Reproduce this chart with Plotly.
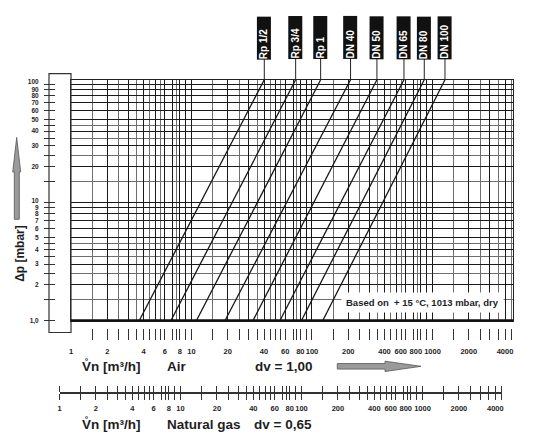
import numpy as np
import plotly.graph_objects as go

# values
sizes = ["Rp 1/2", "Rp 3/4", "Rp 1", "DN 40", "DN 50", "DN 65", "DN 80", "DN 100"]
flow_at_1mbar = [3.69, 6.76, 11.0, 19.0, 32.4, 54.3, 81.8, 123.0]   # m3/h air at 1 mbar
flow_at_top = [40.2, 73.2, 118.0, 209.0, 346.0, 580.0, 855.0, 1270.0]  # m3/h air at top edge
dp_bottom = 1.0
dp_top = 109.0
flow_max = 4660
gas_max = 4500

mantissas_major = [1, 2, 3, 4, 5, 6, 7, 8, 9]
mantissas_half = [1.5, 2.5, 3.5, 4.5, 5.5, 7.5]
flow_labels = {1: "1", 2: "2", 4: "4", 6: "6", 8: "8", 10: "10", 20: "20", 40: "40",
               60: "60", 80: "80", 100: "100", 200: "200", 400: "400", 1000: "1000",
               2000: "2000", 4000: "4000"}
# these two are nudged left in the original so they clear 1000
nudged_labels = {600: "600", 800: "800"}

dp_ticks = [1, 1.5, 2, 2.5, 3, 3.5, 4, 4.5, 5, 6, 7, 8, 9, 10, 15, 20, 25, 30, 35,
            40, 45, 50, 60, 70, 80, 90, 100]
dp_labels = {1: "1,0", 2: "2", 3: "3", 4: "4", 5: "5", 6: "6", 7: "7", 8: "8", 9: "9",
             20: "20", 30: "30", 40: "40", 50: "50", 60: "60", 70: "70", 80: "80", 90: "90"}
# decade labels sit a little higher so they clear 9 / 90
dp_decade_labels = {10: "10", 100: "100"}

major_flow = [m * 10 ** k for k in range(4) for m in mantissas_major if m * 10 ** k <= 4500]
half_flow = [m * 10 ** k for k in range(4) for m in mantissas_half if m * 10 ** k <= 4500]
all_flow = sorted(major_flow + half_flow)
air_flow = [v for v in all_flow if v > 1]
dp_major = [v for v in dp_ticks if float(v).is_integer() and (v < 10 or v % 10 == 0)]
dp_half = [v for v in dp_ticks if v not in dp_major]

# page body has an 8px margin, so the figure sits at (8, 8) in the window
OFF = 8
W, H = 533, 437
L, R, T, B = 32, 20, 2, 5
PW, PH = W - L - R, H - T - B


def px(x):
    return (x - OFF - L) / PW


def py(y):
    return (H - B - (y - OFF)) / PH


FONT = "Liberation Sans, Arial, sans-serif"
INK = "#1e1e1e"

fig = go.Figure()

for name, f1, ft in zip(sizes, flow_at_1mbar, flow_at_top):
    fig.add_trace(go.Scatter(
        x=[f1, ft], y=[dp_bottom, dp_top], mode="lines",
        line=dict(color="#161616", width=1.3),
        name=name, hoverinfo="skip", showlegend=False
    ))

# empty traces so the extra scales get drawn
for xa, ya in [("x2", "y2"), ("x3", "y3"), ("x", "y4"), ("x", "y5"), ("x4", "y2"),
               ("x5", "y2"), ("x6", "y3")]:
    fig.add_trace(go.Scatter(x=[], y=[], xaxis=xa, yaxis=ya, showlegend=False))

grid = dict(showgrid=True, gridcolor="#1a1a1a", gridwidth=1.2, ticks="",
            showticklabels=False, zeroline=False, showline=True, mirror=True,
            linecolor="#222", linewidth=1.2)
minor_grid = dict(showgrid=True, gridcolor="#6e6e6e", gridwidth=1.1, ticks="")
tick_font = dict(size=7.5, weight="bold", color=INK)
hidden_ticks = dict(tickcolor="rgba(0,0,0,0)")
air_range = [0, np.log10(flow_max)]
gas_range = [0, np.log10(gas_max)]
dp_range = [0, np.log10(dp_top)]
air_scale = dict(type="log", range=air_range, anchor="y2", ticks="outside", ticklen=11,
                 tickwidth=1.2, tickcolor="#333", showline=False, showgrid=False,
                 zeroline=False, tickfont=tick_font, tickangle=0, ticklabelstandoff=5)
gas_scale = dict(type="log", range=gas_range, anchor="y3", ticks="outside", ticklen=6,
                 tickwidth=1.2, tickcolor="#333", showgrid=False, zeroline=False,
                 tickfont=tick_font, tickangle=0, ticklabelstandoff=2)
dp_scale = dict(type="log", range=dp_range, overlaying="y", anchor="free",
                position=px(55), side="left", ticks="outside", ticklen=11, tickwidth=1.2,
                tickcolor="#333", showline=False, showgrid=False, zeroline=False,
                tickfont=dict(size=6.5, weight="bold", color=INK), ticklabelstandoff=4)

fig.update_layout(
    width=W, height=H,
    margin=dict(l=L, r=R, t=T, b=B),
    paper_bgcolor="white", plot_bgcolor="white",
    showlegend=False,
    font=dict(family=FONT, color=INK),
    xaxis=dict(type="log", range=air_range, domain=[px(71), px(513)],
               tickvals=major_flow, minor=dict(tickvals=half_flow, **minor_grid), **grid),
    yaxis=dict(type="log", range=dp_range, domain=[py(321), py(79)],
               tickvals=dp_major, minor=dict(tickvals=dp_half, **minor_grid), **grid),
    # air flow scale
    xaxis2=dict(domain=[px(71), px(513)], tickvals=air_flow,
                ticktext=[flow_labels.get(v, "") for v in air_flow], **air_scale),
    xaxis4=dict(overlaying="x2", tickvals=[1], ticktext=[flow_labels[1]],
                **{**air_scale, **hidden_ticks}),
    xaxis5=dict(overlaying="x2", tickvals=list(nudged_labels),
                ticktext=list(nudged_labels.values()), ticklabelshift=-5,
                **{**air_scale, **hidden_ticks}),
    yaxis2=dict(domain=[py(328), py(327)], anchor="x2", visible=False, range=[0, 1]),
    # natural gas scale
    xaxis3=dict(domain=[px(59.5), px(501.5)], tickvals=all_flow,
                ticktext=[flow_labels.get(v, "") for v in all_flow],
                showline=True, linecolor="#333", linewidth=1, mirror="ticks",
                **gas_scale),
    xaxis6=dict(overlaying="x3", tickvals=list(nudged_labels),
                ticktext=list(nudged_labels.values()), ticklabelshift=-5,
                showline=False, **{**gas_scale, **hidden_ticks}),
    yaxis3=dict(domain=[py(394), py(393.4)], anchor="x3", visible=False, range=[0, 1]),
    # pressure drop labels
    yaxis4=dict(tickvals=dp_ticks, ticktext=[dp_labels.get(v, "") for v in dp_ticks],
                **dp_scale),
    yaxis5=dict(tickvals=list(dp_decade_labels), ticktext=list(dp_decade_labels.values()),
                ticklabelshift=-2, **{**dp_scale, **hidden_ticks}),
)

shapes = []
# white box at the left of the grid
shapes.append(dict(type="rect", xref="paper", yref="paper", x0=px(49), x1=px(71),
                   y0=py(333), y1=py(73), line=dict(color="#333", width=1.2),
                   fillcolor="rgba(0,0,0,0)"))
# heavy base line at 1 mbar
shapes.append(dict(type="line", xref="x domain", yref="y domain", x0=0, x1=1, y0=0, y1=0,
                   line=dict(color="#111", width=2.5)))
# leaders from the line ends to the size tags
for ft in flow_at_top:
    shapes.append(dict(type="line", xref="x", yref="paper", x0=ft, x1=ft,
                       y0=py(79), y1=py(58), line=dict(color="#222", width=1)))


def path(points):
    return "M " + " L ".join(f"{px(x):.5f},{py(y):.5f}" for x, y in points) + " Z"


# vertical arrow (Δp)
shapes.append(dict(type="path", xref="paper", yref="paper",
                   path=path([(16.7, 137), (20.7, 171.7), (19.3, 171.7), (19.3, 219.3),
                              (14.3, 219.3), (14.3, 171.7), (12.7, 171.7)]),
                   fillcolor="#9a9a9a", line=dict(color="#555", width=0.8)))
# horizontal arrow (flow)
shapes.append(dict(type="path", xref="paper", yref="paper",
                   path=path([(337.3, 364.2), (385, 364.2), (385, 361.8), (421, 367),
                              (385, 372.2), (385, 369.8), (337.3, 369.8)]),
                   fillcolor="#9a9a9a", line=dict(color="#555", width=0.8)))
fig.update_layout(shapes=shapes)

for name, ft in zip(sizes, flow_at_top):
    fig.add_annotation(
        x=np.log10(ft), xref="x", y=py(37), yref="paper", text=name,
        textangle=-90, showarrow=False, bgcolor="#111", borderpad=0,
        width=42, height=13, align="left",
        font=dict(size=10, color="white", weight="bold", family=FONT),
        xanchor="center", yanchor="middle"
    )


def note(x, y, text, size, **kw):
    fig.add_annotation(x=px(x), y=py(y), xref="paper", yref="paper", text=text,
                       showarrow=False, xanchor=kw.pop("xanchor", "center"),
                       yanchor="middle", font=dict(size=size, weight="bold", color=INK),
                       **kw)


note(422.5, 302.5, "Based on  + 15 °C, 1013 mbar, dry", 9.5, bgcolor="white", borderpad=4)
note(20, 254, "Δp [mbar]", 12, textangle=-90)

for yy, medium, mx, dv in [(367, "Air", 177, "dv = 1,00"),
                           (425, "Natural gas", 204, "dv = 0,65")]:
    note(80, yy, "V\u030an [m³/h]", 13.5, xanchor="left")
    note(mx, yy, medium, 13.5)
    note(283, yy, dv, 13.5)

fig.write_html("out.html")
